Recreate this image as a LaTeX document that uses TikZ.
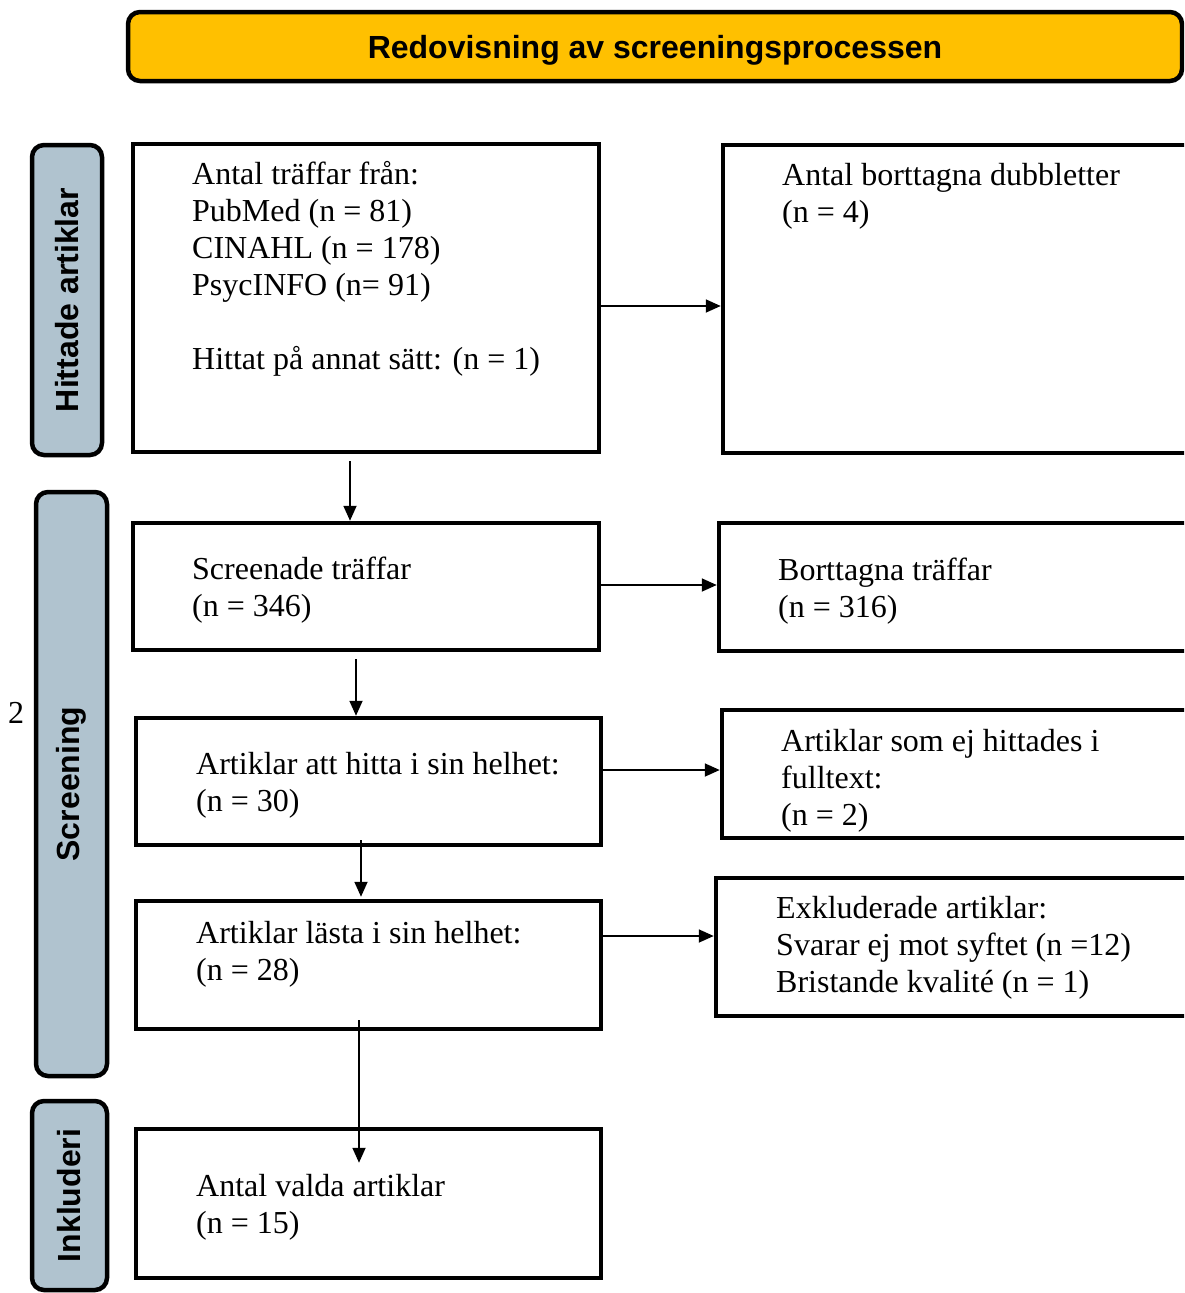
\documentclass[tikz,border=0pt]{standalone}
\usepackage{fontspec}
\setmainfont{Liberation Serif}
\newfontfamily\hdfont{Liberation Sans}
\usetikzlibrary{arrows.meta}
\definecolor{hdr}{HTML}{FFC000}
\definecolor{side}{HTML}{B0C3CF}
\newcommand{\fstrut}{\rule{0pt}{28pt}}
\begin{document}
\begin{tikzpicture}[x=1pt,y=-1pt,
  box/.style={draw=black, line width=4.5pt, fill=white, rectangle, inner sep=0pt},
  sidebox/.style={draw=black, line width=4.5pt, fill=side, rounded corners=12pt, inner sep=0pt,
    font=\hdfont\bfseries\fontsize{32}{36}\selectfont, rotate=90},
  txt/.style={anchor=north west, inner sep=0pt, align=left, font=\fontsize{32}{37}\selectfont},
  arr/.style={line width=1.8pt, -{Triangle[length=15pt,width=13pt]}}]
\useasboundingbox (0,0) rectangle (1184,1293);
\clip (0,0) rectangle (1184,1293);

% header
\node[draw=black, line width=4.5pt, fill=hdr, rounded corners=12pt, minimum width=1054pt, minimum height=69pt,
  text depth=0pt, font=\hdfont\bfseries\fontsize{32}{36}\selectfont] (hdr) at (655,46.5) {Redovisning av screeningsprocessen};

% side labels (rotated: width<->height swapped)
\node[sidebox, minimum width=310pt, minimum height=70pt] (s1) at (67,300) {Hittade artiklar};
\node[sidebox, minimum width=584pt, minimum height=71pt] (s2) at (71.5,784) {Screening};
\node[sidebox, minimum width=189pt, minimum height=75pt] (s3) at (69.5,1195.5) {Inkluderi};

% boxes
\node[box, minimum width=466pt, minimum height=308pt] (b1) at (366,298) {};
\node[box, minimum width=497pt, minimum height=308pt] (b2) at (971.5,299) {};
\node[box, minimum width=466pt, minimum height=127pt] (b3) at (366,586.5) {};
\node[box, minimum width=501pt, minimum height=128pt] (b4) at (969.5,587) {};
\node[box, minimum width=465pt, minimum height=127pt] (b5) at (368.5,781.5) {};
\node[box, minimum width=498pt, minimum height=128pt] (b6) at (971,774) {};
\node[box, minimum width=465pt, minimum height=128pt] (b7) at (368.5,965) {};
\node[box, minimum width=504pt, minimum height=138pt] (b8) at (968,947) {};
\node[box, minimum width=465pt, minimum height=149pt] (b9) at (368.5,1203.5) {};

% texts
\node[txt] (t1) at (192,184-28) {\fstrut Antal träffar från:\\PubMed (n = 81)\\CINAHL (n = 178)\\PsycINFO (n= 91)\\[37pt]Hittat på annat sätt: (n = 1)};
\node[txt] (t2) at (782,185-28) {\fstrut Antal borttagna dubbletter\\(n = 4)};
\node[txt] (t3) at (192,579-28) {\fstrut Screenade träffar\\(n = 346)};
\node[txt] (t4) at (778,580-28) {\fstrut Borttagna träffar\\(n = 316)};
\node[txt] (t5) at (196,774-28) {\fstrut Artiklar att hitta i sin helhet:\\(n = 30)};
\node[txt] (t6) at (781,751-28) {\fstrut Artiklar som ej hittades i\\fulltext:\\(n = 2)};
\node[txt] (t7) at (196,943-28) {\fstrut Artiklar lästa i sin helhet:\\(n = 28)};
\node[txt] (t8) at (776,918-28) {\fstrut Exkluderade artiklar:\\Svarar ej mot syftet (n =12)\\Bristande kvalité (n = 1)};
\node[txt] (t9) at (196,1196-28) {\fstrut Antal valda artiklar\\(n = 15)};

\node[txt] (two) at (8,723-28) {\fstrut 2};

% horizontal arrows
\draw[arr] (b1.east |- 0,306) -- (b2.west |- 0,306);
\draw[arr] (b3.east |- 0,585) -- (b4.west |- 0,585);
\draw[arr] (b5.east |- 0,770) -- (b6.west |- 0,770);
\draw[arr] (b7.east |- 0,936) -- (b8.west |- 0,936);

% vertical arrows
\draw[arr] ([yshift=-7pt]b1.south -| 350,0) -- (b3.north -| 350,0);
\draw[arr] ([yshift=-7pt]b3.south -| 356,0) -- (b5.north -| 356,0);
\draw[arr] ([yshift=7pt]b5.south -| 361,0) -- ([yshift=2pt]b7.north -| 361,0);
\draw[arr] ([yshift=11pt]b7.south -| 359,0) -- ([yshift=-36pt]b9.north -| 359,0);
\end{tikzpicture}
\end{document}
